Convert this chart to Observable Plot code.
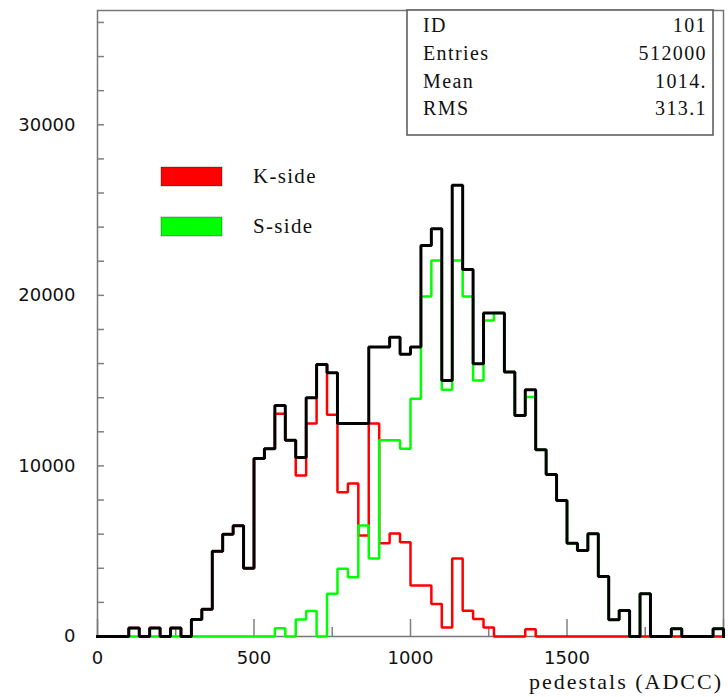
<!DOCTYPE html>
<html>
<head>
<meta charset="utf-8">
<script src="https://cdn.jsdelivr.net/npm/d3@7"></script>
<script src="https://cdn.jsdelivr.net/npm/@observablehq/plot@0.6"></script>
<style>
  body { margin: 0; background: #fff; }
  #chart { width: 728px; height: 697px; }
</style>
</head>
<body>
<div id="chart"></div>
<script>
// Histogram binning: 60 bins over 0..2000 ADC counts
const xRange = [0, 2000];
const nBins = 60;

// Bin contents, K-side pedestals
const kSide = [
  0, 0, 0, 500, 0, 500, 0, 500, 0, 1000,
  1600, 5000, 6000, 6500, 4000, 10440, 11000, 13060, 11500, 9440,
  12490, 15950, 13000, 8460, 8970, 5920, 12490, 5470, 6040, 5530,
  2990, 2990, 1900, 530, 4570, 1510, 1020, 530, 0, 0,
  0, 430, 0, 0, 0, 0, 0, 0, 0, 0,
  0, 0, 0, 0, 0, 0, 0, 0, 0, 0
];

// Bin contents, S-side pedestals
const sSide = [
  0, 0, 0, 0, 0, 0, 0, 0, 0, 0,
  0, 0, 0, 0, 0, 0, 0, 490, 0, 1000,
  1500, 0, 2500, 3970, 3480, 6510, 4570, 11500, 11500, 11010,
  13940, 19940, 22050, 14470, 22050, 19940, 15010, 18530, 18960, 15500,
  12960, 14040, 10950, 9500, 7980, 5470, 5040, 6020, 3520, 980,
  1520, 0, 2500, 0, 0, 450, 0, 0, 0, 450
];

// Bin contents, both sides together (ID 101)
const allSides = [
  0, 0, 0, 500, 0, 500, 0, 500, 0, 1000,
  1600, 5000, 6000, 6500, 4000, 10440, 11000, 13550, 11500, 10500,
  14000, 15950, 15460, 12490, 12490, 12490, 16970, 16970, 17540, 16540,
  16970, 22930, 23910, 15010, 26450, 21510, 15990, 18960, 18960, 15500,
  12960, 14470, 10950, 9500, 7980, 5470, 5040, 6020, 3520, 980,
  1520, 0, 2500, 0, 0, 450, 0, 0, 0, 450
];

// Axis ticks and labels
const yMax = 36700;
const yLabelTicks = [0, 10000, 20000, 30000];
const yMinorTicks = [0, 2000, 4000, 6000, 8000, 10000, 12000, 14000, 16000, 18000,
  20000, 22000, 24000, 26000, 28000, 30000, 32000, 34000, 36000];
const xLabelTicks = [0, 500, 1000, 1500];
const xMajorTicks = [0, 500, 1000, 1500, 2000];
const xMinorTicks = [250, 750, 1250, 1750];
const xTitle = "pedestals (ADCC)";

// Statistics box
const statNames = ["ID", "Entries", "Mean", "RMS"];
const statValues = ["101", "512000", "1014.", "313.1"];

// Legend
const legendNames = ["K-side", "S-side"];
const legendColors = ["#ff0000", "#00ff00"];

const W = 728, H = 697;
const margin = {left: 97, right: 5, top: 10, bottom: 61};
const plotW = W - margin.left - margin.right;
const plotH = H - margin.top - margin.bottom;

const edges = d3.range(nBins + 1).map(i => xRange[0] + i * (xRange[1] - xRange[0]) / nBins);

// Turn bin contents into the outline of a step histogram
function outline(values) {
  const pts = [{x: edges[0], y: 0}];
  values.forEach((v, i) => {
    pts.push({x: edges[i], y: v}, {x: edges[i + 1], y: v});
  });
  pts.push({x: edges[nBins], y: 0});
  return pts;
}

const lineStyle = {x: "x", y: "y", strokeLinejoin: "miter", strokeLinecap: "square", curve: "linear"};
const axisGray = "#808080";

const svg = Plot.plot({
  width: W,
  height: H,
  marginLeft: margin.left,
  marginRight: margin.right,
  marginTop: margin.top,
  marginBottom: margin.bottom,
  style: {fontFamily: "DejaVu Sans", fontSize: "18px", background: "#fff", color: "#111"},
  x: {domain: xRange},
  y: {domain: [0, yMax]},
  marks: [
    Plot.tickY(yMinorTicks, {y: d => d, stroke: axisGray, strokeWidth: 1.5, insetRight: plotW - 7}),
    Plot.tickX(xMajorTicks, {x: d => d, stroke: axisGray, strokeWidth: 1.5, insetTop: plotH - 17}),
    Plot.tickX(xMinorTicks, {x: d => d, stroke: axisGray, strokeWidth: 1.5, insetTop: plotH - 9}),
    Plot.frame({stroke: "#777", strokeWidth: 1.5}),
    Plot.line(outline(kSide), {...lineStyle, stroke: "#ff0000", strokeWidth: 2.5}),
    Plot.line(outline(sSide), {...lineStyle, stroke: "#00ff00", strokeWidth: 2.5}),
    Plot.line(outline(allSides), {...lineStyle, stroke: "#000", strokeWidth: 3}),
    Plot.axisY({ticks: yLabelTicks, tickSize: 0, tickPadding: 22, tickFormat: d => `${d}`, label: null, fontSize: 18}),
    Plot.axisX({ticks: xLabelTicks, tickSize: 0, tickPadding: 15, tickFormat: d => `${d}`, label: null, fontSize: 18})
  ]
});

const root = d3.select(svg);
const serif = '"Liberation Serif", "Times New Roman", serif';

// Axis title at the lower right
root.append("text")
  .attr("x", 723).attr("y", 689)
  .attr("text-anchor", "end")
  .attr("font-family", serif).attr("font-size", 22)
  .attr("letter-spacing", "2px")
  .attr("fill", "#111")
  .text(xTitle);

// Statistics box in the top right corner
const stats = root.append("g");
stats.append("rect")
  .attr("x", 407).attr("y", 10).attr("width", 306).attr("height", 125)
  .attr("fill", "#fff").attr("stroke", "#555").attr("stroke-width", 1.5);
statNames.forEach((name, i) => {
  const y = 32 + i * 27.8;
  stats.append("text").attr("x", 423).attr("y", y).attr("text-anchor", "start")
    .attr("font-family", serif).attr("font-size", 20).attr("letter-spacing", "1.4px")
    .attr("fill", "#111").text(name);
  stats.append("text").attr("x", 707).attr("y", y).attr("text-anchor", "end")
    .attr("font-family", serif).attr("font-size", 20).attr("letter-spacing", "1.4px")
    .attr("fill", "#111").text(statValues[i]);
});

// Legend swatches
const legend = root.append("g");
legendNames.forEach((name, i) => {
  const y = 167 + i * 50;
  legend.append("rect")
    .attr("x", 161).attr("y", y).attr("width", 61).attr("height", 19)
    .attr("fill", legendColors[i]).attr("stroke", "rgba(0,0,0,0.3)").attr("stroke-width", 1);
  legend.append("text").attr("x", 253).attr("y", y + 16).attr("text-anchor", "start")
    .attr("font-family", serif).attr("font-size", 21).attr("letter-spacing", "1.3px")
    .attr("fill", "#111").text(name);
});

document.getElementById("chart").appendChild(svg);
</script>
</body>
</html>
